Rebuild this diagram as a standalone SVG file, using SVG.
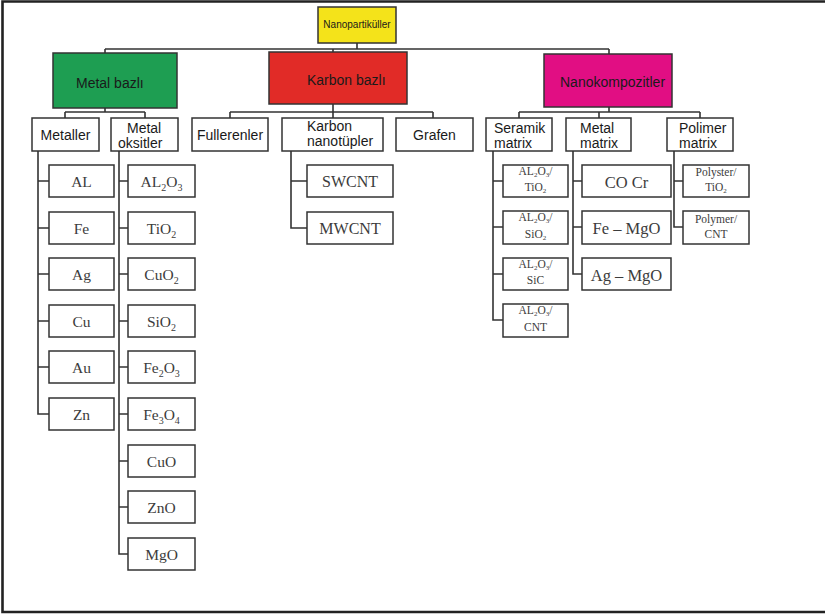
<svg xmlns="http://www.w3.org/2000/svg" width="825" height="616" viewBox="0 0 825 616">
<style>
.box{fill:#fff;stroke:#333;stroke-width:1.5}
.ln{fill:none;stroke:#333;stroke-width:1.6}
.sans{font-family:"Liberation Sans",Arial,sans-serif;fill:#1a1a1a}
.ser{font-family:"Liberation Serif","Times New Roman",serif;fill:#3c3c3c}
.lf{font-size:15.5px;text-anchor:middle}
.sm{font-size:11.5px;text-anchor:middle}
.s{font-size:10px}
.ss{font-size:7px}
</style>
<rect x="0" y="0" width="825" height="616" fill="#fff"/>
<path d="M825 1.5 H2.5 V612 H825" fill="none" stroke="#222" stroke-width="2.6"/>

<g id="connectors">
<path class="ln" d="M357 43 V49 M105 49 H609 M105 49 V53 M333 49 V52 M609 49 V54"/>
<path class="ln" d="M105 108 V112 M65 112 H145 M65 112 V118 M145 112 V118"/>
<path class="ln" d="M333 104 V112 M230 112 H433 M230 112 V118 M333 112 V118 M433 112 V118"/>
<path class="ln" d="M609 107 V112 M519 112 H700 M519 112 V118 M599 112 V118 M700 112 V118"/>
<path class="ln" d="M38 151 V414 H49 M38 181 H49 M38 228 H49 M38 274 H49 M38 321 H49 M38 367 H49"/>
<path class="ln" d="M119 151 V554 H128 M119 181 H128 M119 228 H128 M119 274 H128 M119 321 H128 M119 367 H128 M119 414 H128 M119 461 H128 M119 507 H128"/>
<path class="ln" d="M291 151 V228 H307 M291 181 H307"/>
<path class="ln" d="M493 151 V320 H503 M493 181 H503 M493 227 H503 M493 274 H503"/>
<path class="ln" d="M573 151 V274 H582 M573 181 H582 M573 227 H582"/>
<path class="ln" d="M674 151 V227 H683 M674 181 H683"/>
</g>

<g id="nanopartikuller">
<rect x="318" y="7" width="78" height="36" fill="#F4E31A" stroke="#333" stroke-width="1.5"/>
<text class="sans" x="357" y="28" font-size="10" text-anchor="middle">Nanopartiküller</text>
</g>
<g id="metal-bazli">
<rect x="53" y="53" width="124" height="55" fill="#1E9E52" stroke="#333" stroke-width="1.5"/>
<text class="sans" x="76" y="88" font-size="14">Metal bazlı</text>
</g>
<g id="karbon-bazli">
<rect x="269" y="52" width="138" height="52" fill="#E12B27" stroke="#333" stroke-width="1.5"/>
<text class="sans" x="307" y="85" font-size="14">Karbon bazlı</text>
</g>
<g id="nanokompozitler">
<rect x="544" y="54" width="128" height="53" fill="#E10E83" stroke="#333" stroke-width="1.5"/>
<text class="sans" x="560" y="87" font-size="14">Nanokompozitler</text>
</g>

<g id="metaller"><rect class="box" x="32" y="118" width="67" height="33"/><text class="sans" x="65.5" y="140" font-size="14" text-anchor="middle">Metaller</text></g>
<g id="metal-oksitler"><rect class="box" x="111" y="118" width="67" height="33"/><text class="sans" font-size="14"><tspan x="127" y="133">Metal</tspan><tspan x="118" y="148">oksitler</tspan></text></g>
<g id="fullerenler"><rect class="box" x="192" y="118" width="76" height="33"/><text class="sans" x="230" y="140" font-size="14" text-anchor="middle">Fullerenler</text></g>
<g id="karbon-nanotupler"><rect class="box" x="282" y="118" width="101" height="33"/><text class="sans" font-size="14"><tspan x="307" y="131">Karbon</tspan><tspan x="307" y="146">nanotüpler</tspan></text></g>
<g id="grafen"><rect class="box" x="396" y="118" width="77" height="33"/><text class="sans" x="434.5" y="140" font-size="14" text-anchor="middle">Grafen</text></g>
<g id="seramik-matrix"><rect class="box" x="486" y="118" width="66" height="33"/><text class="sans" font-size="14"><tspan x="494" y="133">Seramik</tspan><tspan x="494" y="148">matrix</tspan></text></g>
<g id="metal-matrix"><rect class="box" x="566" y="118" width="65" height="33"/><text class="sans" font-size="14"><tspan x="580" y="133">Metal</tspan><tspan x="580" y="148">matrix</tspan></text></g>
<g id="polimer-matrix"><rect class="box" x="667" y="118" width="66" height="33"/><text class="sans" font-size="14"><tspan x="679" y="133">Polimer</tspan><tspan x="679" y="148">matrix</tspan></text></g>

<g id="al"><rect class="box" x="49" y="165" width="65" height="32"/><text class="ser lf" x="81.5" y="187">AL</text></g>
<g id="fe"><rect class="box" x="49" y="212" width="65" height="32"/><text class="ser lf" x="81.5" y="234">Fe</text></g>
<g id="ag"><rect class="box" x="49" y="258" width="65" height="32"/><text class="ser lf" x="81.5" y="280">Ag</text></g>
<g id="cu"><rect class="box" x="49" y="305" width="65" height="32"/><text class="ser lf" x="81.5" y="327">Cu</text></g>
<g id="au"><rect class="box" x="49" y="351" width="65" height="32"/><text class="ser lf" x="81.5" y="373">Au</text></g>
<g id="zn"><rect class="box" x="49" y="398" width="65" height="32"/><text class="ser lf" x="81.5" y="420">Zn</text></g>

<g id="al2o3"><rect class="box" x="128" y="165" width="67" height="32"/><text class="ser lf" x="161.5" y="187">AL<tspan class="s" dy="4">2</tspan><tspan dy="-4">O</tspan><tspan class="s" dy="4">3</tspan></text></g>
<g id="tio2"><rect class="box" x="128" y="212" width="67" height="32"/><text class="ser lf" x="161.5" y="234">TiO<tspan class="s" dy="4">2</tspan></text></g>
<g id="cuo2"><rect class="box" x="128" y="258" width="67" height="32"/><text class="ser lf" x="161.5" y="280">CuO<tspan class="s" dy="4">2</tspan></text></g>
<g id="sio2"><rect class="box" x="128" y="305" width="67" height="32"/><text class="ser lf" x="161.5" y="327">SiO<tspan class="s" dy="4">2</tspan></text></g>
<g id="fe2o3"><rect class="box" x="128" y="351" width="67" height="32"/><text class="ser lf" x="161.5" y="373">Fe<tspan class="s" dy="4">2</tspan><tspan dy="-4">O</tspan><tspan class="s" dy="4">3</tspan></text></g>
<g id="fe3o4"><rect class="box" x="128" y="398" width="67" height="32"/><text class="ser lf" x="161.5" y="420">Fe<tspan class="s" dy="4">3</tspan><tspan dy="-4">O</tspan><tspan class="s" dy="4">4</tspan></text></g>
<g id="cuo"><rect class="box" x="128" y="445" width="67" height="32"/><text class="ser lf" x="161.5" y="467">CuO</text></g>
<g id="zno"><rect class="box" x="128" y="491" width="67" height="32"/><text class="ser lf" x="161.5" y="513">ZnO</text></g>
<g id="mgo"><rect class="box" x="128" y="538" width="67" height="32"/><text class="ser lf" x="161.5" y="560">MgO</text></g>

<g id="swcnt"><rect class="box" x="307" y="165" width="86" height="32"/><text class="ser" x="350" y="187" font-size="16" text-anchor="middle">SWCNT</text></g>
<g id="mwcnt"><rect class="box" x="307" y="212" width="86" height="32"/><text class="ser" x="350" y="234" font-size="16" text-anchor="middle">MWCNT</text></g>

<g id="al2o3-tio2"><rect class="box" x="503" y="165" width="65" height="32"/><text class="ser sm" x="535.5" y="175">AL<tspan class="ss" dy="2">2</tspan><tspan dy="-2">O</tspan><tspan class="ss" dy="2">3</tspan><tspan dy="-2">/</tspan></text><text class="ser sm" x="535.5" y="191">TiO<tspan class="ss" dy="2">2</tspan></text></g>
<g id="al2o3-sio2"><rect class="box" x="503" y="211" width="65" height="33"/><text class="ser sm" x="535.5" y="221">AL<tspan class="ss" dy="2">2</tspan><tspan dy="-2">O</tspan><tspan class="ss" dy="2">3</tspan><tspan dy="-2">/</tspan></text><text class="ser sm" x="535.5" y="238">SiO<tspan class="ss" dy="2">2</tspan></text></g>
<g id="al2o3-sic"><rect class="box" x="503" y="258" width="65" height="32"/><text class="ser sm" x="535.5" y="268">AL<tspan class="ss" dy="2">2</tspan><tspan dy="-2">O</tspan><tspan class="ss" dy="2">3</tspan><tspan dy="-2">/</tspan></text><text class="ser sm" x="535.5" y="284">SiC</text></g>
<g id="al2o3-cnt"><rect class="box" x="503" y="304" width="65" height="33"/><text class="ser sm" x="535.5" y="314">AL<tspan class="ss" dy="2">2</tspan><tspan dy="-2">O</tspan><tspan class="ss" dy="2">3</tspan><tspan dy="-2">/</tspan></text><text class="ser sm" x="535.5" y="331">CNT</text></g>

<g id="co-cr"><rect class="box" x="582" y="165" width="89" height="32"/><text class="ser" x="626.5" y="188" font-size="16.5" text-anchor="middle">CO Cr</text></g>
<g id="fe-mgo"><rect class="box" x="582" y="211" width="89" height="33"/><text class="ser" x="626.5" y="234" font-size="16.5" text-anchor="middle">Fe – MgO</text></g>
<g id="ag-mgo"><rect class="box" x="582" y="258" width="89" height="32"/><text class="ser" x="626.5" y="281" font-size="16.5" text-anchor="middle">Ag – MgO</text></g>

<g id="polyster-tio2"><rect class="box" x="683" y="165" width="66" height="32"/><text class="ser sm" x="716" y="176">Polyster/</text><text class="ser sm" x="716" y="191">TiO<tspan class="ss" dy="2">2</tspan></text></g>
<g id="polymer-cnt"><rect class="box" x="683" y="211" width="66" height="33"/><text class="ser sm" x="716" y="223">Polymer/</text><text class="ser sm" x="716" y="238">CNT</text></g>
</svg>
